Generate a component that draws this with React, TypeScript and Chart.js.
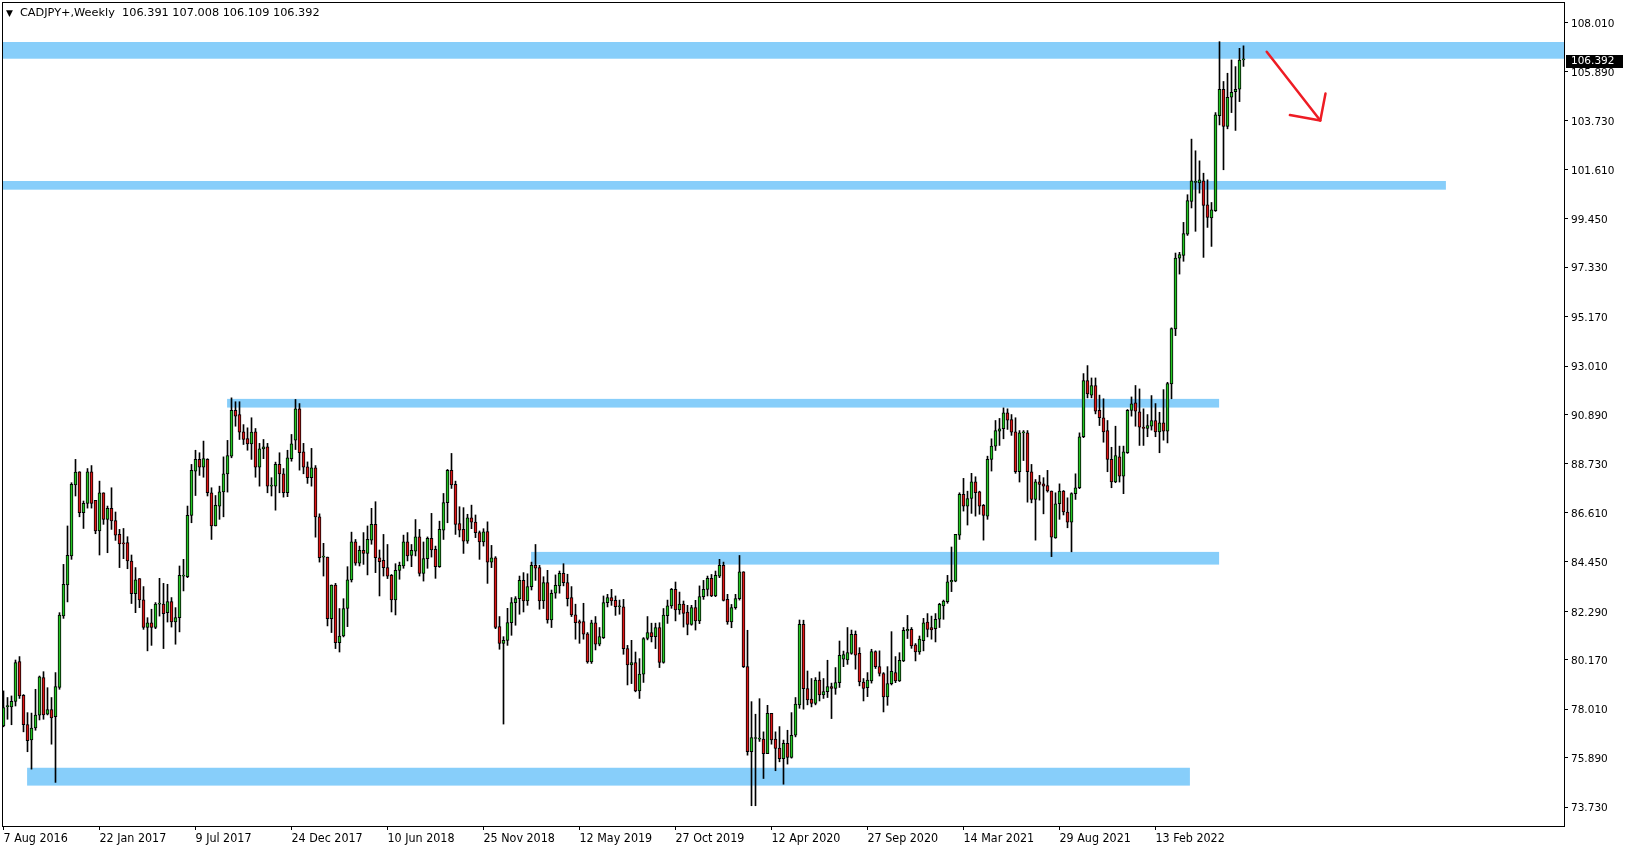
import React, { useEffect, useRef } from "react";
import { Chart, registerables } from "chart.js";

Chart.register(...registerables);

// ---- Weekly CADJPY+ candles, index 0 = week of 7 Aug 2016 ----
const opens = [
  77.28, 78.12, 78.11, 78.35, 80.09, 78.62, 77.34, 76.67, 77.19, 77.75,
  79.39, 77.79, 77.99, 77.68, 78.96, 82.09, 83.44, 84.71, 87.81, 88.39,
  86.6, 87.01, 88.39, 87.14, 85.8, 87.47, 86.31, 86.79, 86.26, 85.65,
  85.26, 85.29, 84.49, 83.06, 83.72, 82.79, 81.58, 81.79, 81.58, 82.6,
  82.6, 82.23, 82.71, 81.82, 82.01, 83.83, 83.8, 86.48, 88.42, 88.93,
  88.59, 88.93, 87.47, 86.02, 86.89, 87.51, 88.3, 89.07, 91.07, 90.89,
  90.13, 89.84, 89.61, 90.13, 88.59, 89.39, 89.48, 87.76, 87.76, 88.71,
  88.3, 87.47, 88.96, 89.77, 91.14, 89.26, 88.61, 88.13, 88.56, 86.42,
  84.66, 84.66, 81.97, 83.44, 80.92, 81.21, 82.41, 83.66, 85.33, 84.39,
  84.95, 84.82, 85.4, 86.09, 84.63, 84.52, 84.2, 83.86, 82.79, 84.08,
  84.27, 85.33, 84.73, 84.92, 85.55, 83.95, 84.59, 85.48, 85.0, 84.24,
  85.84, 87.04, 88.45, 87.84, 86.12, 85.87, 85.36, 86.38, 86.19, 85.73,
  85.32, 85.77, 84.44, 84.63, 81.62, 80.88, 81.02, 81.79, 82.67, 82.84,
  83.64, 82.74, 83.37, 84.3, 84.2, 82.74, 83.54, 81.91, 83.08, 83.4,
  83.95, 83.54, 82.89, 82.13, 81.84, 81.84, 81.3, 80.08, 81.79, 80.85,
  81.14, 82.67, 82.89, 82.77, 82.49, 82.49, 80.66, 79.95, 80.05, 78.81,
  79.54, 81.1, 81.36, 81.18, 81.58, 80.05, 82.1, 82.52, 83.25, 82.35,
  82.6, 82.26, 81.72, 82.45, 81.87, 82.93, 83.25, 83.73, 82.96, 83.83,
  84.3, 82.81, 81.82, 82.45, 82.84, 84.02, 79.87, 76.15, 76.73, 76.7,
  76.7, 76.07, 77.83, 76.7, 76.31, 75.85, 76.52, 75.9, 76.87, 78.2,
  81.72, 78.91, 78.45, 78.26, 79.28, 78.63, 78.78, 79.0, 78.92, 79.17,
  80.2, 80.16, 80.45, 81.28, 80.45, 79.2, 78.95, 79.25, 80.53, 79.87,
  79.57, 78.55, 79.13, 79.61, 79.25, 80.12, 81.43, 81.5, 80.82, 80.51,
  81.0, 81.82, 81.58, 81.53, 81.94, 82.52, 82.71, 83.58, 83.61, 85.62,
  87.4, 86.89, 87.22, 87.95, 87.51, 86.92, 86.45, 88.93, 89.51, 90.16,
  90.27, 90.96, 90.67, 90.13, 88.39, 90.09, 90.09, 88.39, 87.18, 87.95,
  87.86, 87.79, 87.55, 85.5, 86.99, 87.55, 86.63, 86.19, 87.43, 87.69,
  89.92, 92.38, 91.74, 92.16, 91.07, 90.75, 90.19, 88.93, 87.95, 89.04,
  88.2, 89.22, 91.07, 91.4, 91.01, 90.34, 90.28, 90.38, 90.63, 90.13,
  90.53, 90.16, 92.23, 94.63, 97.73, 97.85, 98.78, 100.21, 101.04, 101.01,
  101.11, 100.06, 99.48, 99.8, 103.96, 105.11, 103.48, 104.76, 105.0, 105.11,
  106.391,
];

const highs = [
  78.81, 78.52, 78.59, 80.16, 80.31, 78.65, 77.86, 77.84, 78.88, 79.46,
  79.65, 78.95, 78.52, 79.61, 82.23, 84.34, 86.02, 87.91, 88.93, 88.39,
  87.11, 88.53, 88.66, 87.14, 87.98, 87.47, 86.89, 87.69, 86.63, 85.87,
  85.91, 85.55, 84.75, 84.2, 83.72, 83.37, 82.01, 82.38, 82.67, 83.73,
  83.51, 83.47, 82.89, 82.45, 84.27, 84.56, 86.89, 88.71, 89.33, 89.22,
  89.73, 88.96, 87.69, 87.35, 87.76, 89.04, 89.76, 91.62, 91.45, 91.45,
  90.45, 90.31, 90.75, 90.28, 89.63, 89.8, 89.63, 88.13, 88.81, 89.22,
  88.53, 89.33, 90.02, 91.55, 91.37, 89.63, 88.82, 89.41, 88.66, 86.55,
  85.26, 84.66, 83.44, 83.51, 82.41, 82.84, 84.24, 85.75, 85.43, 85.14,
  85.73, 86.02, 86.79, 87.08, 84.97, 85.65, 85.21, 83.9, 84.37, 84.44,
  85.62, 85.73, 85.21, 86.3, 85.87, 85.32, 85.54, 86.57, 85.14, 86.23,
  87.44, 88.49, 89.19, 87.98, 86.86, 86.82, 86.53, 86.93, 86.5, 85.8,
  85.9, 86.2, 85.17, 84.68, 82.06, 81.18, 82.42, 82.89, 82.93, 83.83,
  83.98, 83.93, 84.44, 85.21, 84.3, 83.8, 84.08, 83.22, 83.88, 84.05,
  84.37, 83.91, 83.37, 82.6, 81.91, 82.64, 81.36, 81.9, 82.06, 81.58,
  82.96, 83.03, 83.25, 82.96, 82.78, 82.81, 80.8, 81.02, 80.51, 80.22,
  81.14, 82.06, 81.77, 81.77, 81.79, 82.41, 82.78, 83.29, 83.57, 83.13,
  82.74, 82.55, 82.55, 82.77, 83.4, 83.64, 83.83, 83.9, 84.05, 84.56,
  84.44, 83.03, 82.59, 83.03, 84.73, 84.02, 81.46, 78.34, 77.79, 78.47,
  77.02, 78.18, 77.83, 77.02, 77.25, 76.66, 77.09, 77.86, 78.52, 81.91,
  81.9, 79.68, 79.35, 79.39, 79.64, 79.35, 80.15, 79.15, 79.83, 80.99,
  80.55, 81.58, 81.47, 81.43, 80.7, 79.35, 79.61, 80.63, 80.56, 80.56,
  79.61, 79.87, 81.4, 80.31, 80.48, 81.58, 82.11, 81.58, 80.88, 81.21,
  81.98, 82.19, 82.08, 82.19, 82.64, 82.78, 83.86, 85.1, 85.65, 87.47,
  88.1, 87.54, 88.32, 88.17, 87.54, 86.96, 89.07, 89.83, 90.63, 90.72,
  91.18, 91.14, 90.89, 90.75, 90.19, 90.19, 90.19, 88.71, 88.05, 88.23,
  88.13, 88.45, 87.55, 87.47, 87.86, 87.57, 87.25, 87.47, 88.3, 90.09,
  92.68, 93.03, 92.49, 92.49, 91.74, 91.58, 90.63, 89.46, 90.38, 89.51,
  89.51, 91.11, 91.66, 92.16, 92.01, 91.14, 90.89, 91.72, 91.37, 90.99,
  91.98, 92.3, 94.68, 97.95, 97.98, 99.29, 100.5, 102.93, 102.42, 101.98,
  101.44, 101.15, 100.16, 104.09, 107.19, 105.45, 105.81, 106.39, 106.1, 106.9,
  107.008,
];

const lows = [
  77.24, 77.57, 77.33, 78.15, 78.48, 77.02, 76.15, 75.39, 77.09, 77.54,
  77.57, 77.76, 76.48, 74.81, 78.88, 81.98, 82.7, 84.56, 87.33, 86.42,
  85.91, 86.8, 86.8, 85.68, 84.75, 86.09, 84.85, 85.87, 85.39, 84.2,
  84.59, 84.15, 82.63, 82.23, 82.45, 81.5, 80.56, 80.8, 81.53, 82.08,
  80.66, 81.82, 81.6, 80.85, 81.39, 83.18, 83.76, 86.16, 87.35, 88.23,
  88.15, 87.33, 85.43, 86.02, 86.31, 86.42, 87.5, 89.0, 90.38, 89.8,
  89.58, 89.33, 88.93, 88.15, 87.76, 88.96, 87.47, 87.33, 86.71, 87.47,
  87.28, 87.3, 88.85, 89.36, 88.46, 88.3, 87.88, 87.76, 85.53, 84.44,
  83.83, 81.65, 81.36, 80.66, 80.51, 81.17, 81.62, 83.57, 84.3, 84.27,
  84.34, 83.88, 85.22, 83.98, 82.96, 83.83, 83.72, 82.26, 82.13, 83.69,
  84.17, 84.49, 84.24, 84.71, 83.83, 83.61, 84.17, 84.66, 83.73, 84.21,
  85.43, 86.16, 87.66, 85.65, 85.54, 84.82, 85.26, 85.9, 85.51, 84.56,
  85.14, 83.51, 84.2, 81.53, 80.63, 77.36, 80.8, 81.24, 81.68, 82.16,
  82.26, 82.55, 83.22, 83.64, 82.38, 82.41, 81.77, 81.58, 82.86, 83.08,
  83.4, 82.52, 82.06, 81.07, 80.89, 81.07, 80.02, 80.01, 80.6, 80.78,
  81.1, 82.48, 82.55, 82.11, 82.16, 80.41, 79.07, 79.13, 78.77, 78.48,
  79.18, 81.04, 80.95, 80.66, 79.83, 80.02, 81.76, 82.42, 81.87, 82.16,
  81.6, 81.26, 81.68, 81.47, 81.75, 82.81, 82.96, 82.93, 82.93, 83.76,
  82.74, 81.72, 81.57, 82.38, 82.78, 79.83, 76.0, 73.79, 73.79, 76.6,
  74.98, 76.07, 76.48, 75.32, 75.71, 74.73, 75.61, 75.87, 76.8, 78.05,
  78.01, 78.2, 78.11, 78.2, 78.37, 78.48, 78.52, 77.6, 78.66, 78.96,
  79.87, 79.97, 80.41, 79.76, 79.03, 78.37, 78.56, 79.15, 79.79, 79.46,
  77.89, 78.18, 79.07, 79.17, 79.22, 80.09, 81.1, 80.67, 80.12, 80.41,
  80.56, 81.17, 81.07, 80.95, 81.58, 81.94, 82.64, 83.15, 83.58, 85.43,
  86.67, 86.06, 86.57, 86.45, 86.53, 85.4, 86.31, 88.42, 89.32, 89.54,
  89.83, 90.24, 89.98, 88.32, 87.94, 88.88, 87.06, 87.03, 85.4, 87.15,
  86.55, 87.5, 84.68, 85.48, 86.31, 86.5, 85.94, 84.89, 87.18, 87.65,
  89.88, 91.62, 91.62, 90.92, 90.41, 89.68, 88.39, 87.69, 87.91, 87.94,
  87.43, 89.19, 90.82, 90.38, 89.54, 89.54, 89.92, 90.21, 89.92, 89.22,
  89.77, 89.65, 91.58, 94.34, 97.03, 97.59, 98.72, 99.92, 98.9, 100.57,
  97.76, 99.07, 98.24, 99.77, 103.55, 101.59, 103.38, 104.09, 103.31, 104.57,
  106.109,
];

const closes = [
  78.08, 78.14, 78.35, 80.05, 78.59, 77.33, 76.63, 77.18, 77.75, 79.42,
  77.76, 77.99, 77.63, 79.0, 82.12, 83.47, 84.74, 87.84, 88.37, 86.6,
  87.01, 88.39, 87.01, 85.8, 87.47, 86.31, 86.79, 86.24, 85.62, 85.24,
  85.24, 84.49, 83.06, 83.66, 82.79, 81.58, 81.79, 81.58, 82.6, 82.62,
  82.19, 82.71, 81.82, 82.01, 83.86, 83.85, 86.48, 88.45, 88.93, 88.59,
  88.97, 87.47, 86.02, 86.92, 87.51, 88.3, 89.1, 91.07, 90.82, 90.12,
  89.8, 89.61, 90.12, 88.59, 89.39, 89.48, 87.76, 87.78, 88.71, 88.3,
  87.47, 89.0, 89.61, 91.14, 89.22, 88.59, 88.13, 88.56, 86.42, 84.63,
  84.68, 81.97, 83.44, 80.92, 81.21, 82.41, 83.66, 85.33, 84.39, 84.95,
  84.82, 85.43, 86.09, 84.63, 84.46, 84.2, 83.83, 82.79, 84.08, 84.3,
  85.33, 84.71, 84.95, 85.55, 83.95, 84.59, 85.48, 84.97, 84.24, 85.87,
  87.04, 88.45, 87.81, 86.09, 85.84, 85.36, 86.38, 86.19, 85.73, 85.32,
  85.76, 84.44, 84.63, 81.58, 80.88, 81.02, 81.8, 82.67, 82.84, 83.64,
  82.74, 83.37, 84.3, 84.17, 82.74, 83.54, 81.91, 83.08, 83.43, 83.95,
  83.54, 82.84, 82.13, 81.79, 81.77, 81.29, 80.08, 81.79, 80.85, 81.18,
  82.67, 82.89, 82.74, 82.49, 82.5, 80.66, 79.95, 80.05, 78.81, 79.54,
  81.1, 81.36, 81.18, 81.58, 80.05, 82.12, 82.53, 83.25, 82.35, 82.6,
  82.2, 81.72, 82.45, 81.87, 82.93, 83.25, 83.73, 82.96, 83.86, 84.3,
  82.77, 81.82, 82.45, 82.84, 84.02, 79.87, 76.15, 76.77, 76.75, 76.72,
  76.07, 77.83, 76.67, 76.29, 75.85, 76.52, 75.9, 76.87, 78.23, 81.72,
  78.91, 78.42, 78.26, 79.28, 78.63, 78.78, 79.0, 78.92, 79.17, 80.37,
  80.4, 80.48, 81.28, 80.37, 79.2, 78.92, 79.28, 80.53, 79.87, 79.57,
  78.55, 79.13, 79.66, 79.25, 80.15, 81.46, 81.5, 80.78, 80.51, 81.07,
  81.79, 81.5, 81.47, 81.94, 82.59, 82.74, 83.58, 83.64, 85.65, 87.4,
  86.89, 87.22, 87.95, 87.47, 86.89, 86.48, 88.93, 89.51, 90.19, 90.27,
  90.96, 90.64, 90.12, 88.39, 90.09, 90.1, 88.39, 87.18, 87.95, 87.84,
  87.76, 87.55, 85.53, 86.99, 87.55, 86.63, 86.19, 87.43, 87.69, 89.92,
  92.38, 91.79, 92.16, 91.04, 90.75, 90.13, 88.93, 87.95, 89.1, 88.2,
  89.26, 91.07, 91.36, 91.04, 90.34, 90.28, 90.41, 90.63, 90.13, 90.53,
  90.16, 92.24, 94.65, 97.73, 97.88, 98.8, 100.24, 101.11, 101.06, 101.15,
  100.03, 99.51, 99.84, 103.99, 105.11, 103.48, 104.76, 104.98, 105.11, 106.39,
  106.392,
];

// time axis labels (every 24 weeks)
const xTickIdx = [0, 24, 48, 72, 96, 120, 144, 168, 192, 216, 240, 264, 288];
const xTickLabels = [
  "7 Aug 2016", "22 Jan 2017", "9 Jul 2017", "24 Dec 2017", "10 Jun 2018",
  "25 Nov 2018", "12 May 2019", "27 Oct 2019", "12 Apr 2020", "27 Sep 2020",
  "14 Mar 2021", "29 Aug 2021", "13 Feb 2022",
];

// price axis labels
const yTicks = [
  108.01, 105.89, 103.73, 101.61, 99.45, 97.33, 95.17, 93.01, 90.89,
  88.73, 86.61, 84.45, 82.29, 80.17, 78.01, 75.89, 73.73,
];
const yMin = 72.904;
const yMax = 108.924;

// support/resistance zones: price top/bottom, week index start/end
const zoneTop = [107.175, 101.1, 91.575, 84.886, 75.45];
const zoneBottom = [106.445, 100.72, 91.195, 84.331, 74.67];
const zoneStart = [-2, -2, 55.9, 131.9, 5.9];
const zoneEnd = [400, 360.6, 303.9, 303.9, 296.6];

// red arrow drawn on the chart (week index, price)
const arrowShaftX = [315.8, 329.2];
const arrowShaftY = [106.75, 103.74];
const arrowHeadX = [321.6, 329.2, 330.5];
const arrowHeadY = [103.98, 103.74, 104.92];

const lastPrice = 106.392;
const titleText = "CADJPY+,Weekly  106.391 107.008 106.109 106.392";

const BULL = "#22c522";
const BEAR = "#dd1616";
const ZONE = "#87cefa";
const AXIS_FONT = "'DejaVu Sans', Verdana, sans-serif";
const TIME_FONT = "'DejaVu Sans Condensed', 'Liberation Sans Narrow', 'DejaVu Sans', sans-serif";

const zonesPlugin = {
  id: "zones",
  beforeDatasetsDraw(chart: any) {
    const { ctx, chartArea, scales } = chart;
    const xs = scales.x;
    const ys = scales.y;
    ctx.save();
    ctx.beginPath();
    ctx.rect(chartArea.left, chartArea.top, chartArea.right - chartArea.left, chartArea.bottom - chartArea.top);
    ctx.clip();
    ctx.fillStyle = ZONE;
    for (let k = 0; k < zoneTop.length; k++) {
      const x1 = xs.getPixelForValue(zoneStart[k]);
      const x2 = xs.getPixelForValue(zoneEnd[k]);
      const y1 = ys.getPixelForValue(zoneTop[k]);
      const y2 = ys.getPixelForValue(zoneBottom[k]);
      ctx.fillRect(x1, y1, x2 - x1, y2 - y1);
    }
    ctx.restore();
  },
};

const framePlugin = {
  id: "frame",
  afterDraw(chart: any) {
    const { ctx, chartArea, scales } = chart;
    ctx.save();
    ctx.strokeStyle = "#000";
    ctx.lineWidth = 1;
    ctx.strokeRect(
      chartArea.left + 0.5,
      chartArea.top + 0.5,
      chartArea.right - chartArea.left,
      chartArea.bottom - chartArea.top
    );
    // current price label
    const y = Math.round(scales.y.getPixelForValue(lastPrice)) + 1;
    ctx.fillStyle = "#000";
    ctx.fillRect(chartArea.right + 2, y - 6, 57, 13);
    ctx.fillStyle = "#fff";
    ctx.font = "10.5px " + AXIS_FONT;
    ctx.textBaseline = "middle";
    ctx.textAlign = "left";
    ctx.fillText(lastPrice.toFixed(3), chartArea.right + 7, y + 0.5);
    ctx.restore();
  },
};

export default function App() {
  const canvasRef = useRef<HTMLCanvasElement | null>(null);

  useEffect(() => {
    document.body.style.margin = "0";
    const canvas = canvasRef.current;
    if (!canvas) return;

    const wickData = highs.map((h, i) => ({ x: i, y: [lows[i], h] }));
    const bodyData = closes.map((c, i) => ({ x: i, y: [opens[i], c] }));
    const bodyColors = closes.map((c, i) => (c >= opens[i] ? BULL : BEAR));

    const chart = new Chart(canvas, {
      type: "bar",
      data: {
        datasets: [
          {
            type: "bar",
            label: "wicks",
            data: wickData as any,
            backgroundColor: "#000",
            borderWidth: 0,
            barThickness: 1,
            grouped: false,
            order: 3,
          } as any,
          {
            type: "bar",
            label: "bodies",
            data: bodyData as any,
            backgroundColor: bodyColors,
            borderColor: "#000",
            borderWidth: 1,
            borderSkipped: false,
            barThickness: 3,
            minBarLength: 1,
            grouped: false,
            order: 2,
          } as any,
          {
            type: "line",
            label: "arrow",
            data: arrowShaftX.map((x, k) => ({ x, y: arrowShaftY[k] })),
            borderColor: "#ee1c24",
            borderWidth: 2.5,
            pointRadius: 0,
            borderCapStyle: "round",
            order: 1,
          } as any,
          {
            type: "line",
            label: "arrowHead",
            data: arrowHeadX.map((x, k) => ({ x, y: arrowHeadY[k] })),
            borderColor: "#ee1c24",
            borderWidth: 2.5,
            pointRadius: 0,
            borderCapStyle: "round",
            borderJoinStyle: "round",
            order: 1,
          } as any,
        ],
      },
      options: {
        responsive: false,
        animation: false,
        devicePixelRatio: 1,
        events: [],
        layout: { padding: { top: 2, left: 2, right: 0, bottom: 0 } },
        plugins: {
          legend: { display: false },
          tooltip: { enabled: false },
          title: { display: false },
        },
        scales: {
          x: {
            type: "linear",
            min: -0.375,
            max: 390.125,
            offset: false,
            border: { display: false },
            grid: {
              offset: false,
              drawOnChartArea: false,
              drawTicks: true,
              tickLength: 4,
              color: "#000",
            },
            ticks: {
              autoSkip: false,
              maxRotation: 0,
              align: "start",
              padding: 1,
              color: "#000",
              font: { family: TIME_FONT, size: 12.4 },
              callback: (_v: any, idx: number) => xTickLabels[idx],
            },
            afterBuildTicks: (s: any) => {
              s.ticks = xTickIdx.map((v) => ({ value: v }));
            },
            afterFit: (s: any) => {
              s.height = 24;
              s.paddingLeft = 0;
              s.paddingRight = 0;
            },
          },
          y: {
            type: "linear",
            position: "right",
            min: yMin,
            max: yMax,
            border: { display: false },
            grid: {
              drawOnChartArea: false,
              drawTicks: true,
              tickLength: 4,
              color: "#000",
            },
            ticks: {
              autoSkip: false,
              padding: 3,
              labelOffset: 1.5,
              color: "#000",
              font: { family: AXIS_FONT, size: 10.5 },
              callback: (v: any) => Number(v).toFixed(3),
            },
            afterBuildTicks: (s: any) => {
              s.ticks = yTicks.map((v) => ({ value: v }));
            },
            afterFit: (s: any) => {
              s.width = 65;
              s.paddingTop = 0;
              s.paddingBottom = 0;
            },
          },
        },
      },
      plugins: [zonesPlugin, framePlugin],
    });

    return () => chart.destroy();
  }, []);

  return (
    <div style={{ position: "absolute", left: 0, top: 0, width: 1629, height: 850, background: "#fff" }}>
      <canvas ref={canvasRef} width={1629} height={850} style={{ display: "block" }} />
      <div
        style={{
          position: "absolute",
          left: 6,
          top: 6,
          font: "11.3px 'DejaVu Sans', Verdana, sans-serif",
          color: "#000",
          whiteSpace: "pre",
          lineHeight: "13px",
        }}
      >
        <span style={{ fontSize: 9, marginRight: 7 }}>▼</span>
        {titleText}
      </div>
    </div>
  );
}
